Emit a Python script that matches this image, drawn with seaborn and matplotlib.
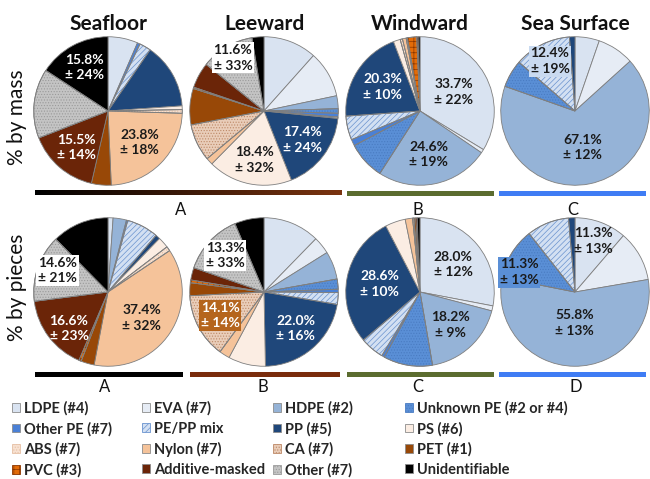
import numpy as np
import matplotlib
matplotlib.use("Agg")
import matplotlib.pyplot as plt
from matplotlib.patches import Wedge, Patch, Rectangle
from matplotlib.colors import LinearSegmentedColormap
import seaborn as sns

# ---------------------------------------------------------------- data
categories = ["LDPE (#4)", "EVA (#7)", "HDPE (#2)", "Unknown PE (#2 or #4)",
              "Other PE (#7)", "PE/PP mix", "PP (#5)", "PS (#6)",
              "ABS (#7)", "Nylon (#7)", "CA (#7)", "PET (#1)",
              "PVC (#3)", "Additive-masked", "Other (#7)", "Unidentifiable"]
sites = ["Seafloor", "Leeward", "Windward", "Sea Surface"]
row_titles = ["% by mass", "% by pieces"]

#                 LDPE  EVA  HDPE  UnkPE OthPE PE/PP  PP    PS   ABS  Nylon  CA   PET  PVC  Addit Other Unid
mass_seafloor  = [6.5,  0.0, 0.0,  0.0,  0.6,  2.5, 14.3,  0.8, 0.8, 23.8, 0.0, 4.3, 0.0, 15.5, 15.1, 15.8]
mass_leeward   = [11.6, 10.1, 2.8, 1.0,  0.8,  0.3, 17.4, 18.4, 0.0, 1.5,  8.1, 7.9, 0.3, 5.6,  11.6, 2.6]
mass_windward  = [33.7, 0.8, 24.6, 8.2,  1.4,  5.2, 20.3,  1.5, 0.5, 0.8,  0.3, 0.0, 2.0, 0.3,  0.0,  0.4]
mass_surface   = [5.3,  8.0, 67.1, 6.0,  0.0, 12.4,  1.2,  0.0, 0.0, 0.0,  0.0, 0.0, 0.0, 0.0,  0.0,  0.0]

pieces_seafloor = [1.1, 0.0, 2.9,  0.0,  0.3,  6.9,  1.0,  2.4, 1.0, 37.4, 0.0, 2.9, 0.5, 16.6, 14.6, 12.4]
pieces_leeward  = [12.3, 3.8, 6.1, 2.2,  0.7,  2.6, 22.0,  8.1, 0.0, 2.3, 14.1, 2.8, 0.6, 2.7,  13.3, 6.4]
pieces_windward = [28.0, 1.1, 18.2, 10.7, 0.6, 5.2, 28.6,  4.4, 0.0, 1.6,  0.3, 0.4, 0.0, 0.3,  0.0,  0.6]
pieces_surface  = [11.3, 11.0, 55.8, 11.3, 0.0, 9.2, 1.4,  0.0, 0.0, 0.0,  0.0, 0.0, 0.0, 0.0,  0.0,  0.0]

# +/- uncertainty of the labelled slices
mass_seafloor_err = {"Unidentifiable": 24, "Nylon (#7)": 18, "Additive-masked": 14}
mass_leeward_err = {"Other (#7)": 33, "PP (#5)": 24, "PS (#6)": 32}
mass_windward_err = {"LDPE (#4)": 22, "HDPE (#2)": 19, "PP (#5)": 10}
mass_surface_err = {"HDPE (#2)": 12, "PE/PP mix": 19}
pieces_seafloor_err = {"Nylon (#7)": 32, "Additive-masked": 23, "Other (#7)": 21}
pieces_leeward_err = {"Other (#7)": 33, "CA (#7)": 14, "PP (#5)": 16}
pieces_windward_err = {"LDPE (#4)": 12, "HDPE (#2)": 9, "PP (#5)": 10}
pieces_surface_err = {"LDPE (#4)": 13, "HDPE (#2)": 13, "Unknown PE (#2 or #4)": 13}

mass_groups = ["A", "B", "C"]
pieces_groups = ["A", "B", "C", "D"]

# ---------------------------------------------------------------- style
sns.set_theme(style="white")
plt.rcParams["font.family"] = ["Lato", "DejaVu Sans"]
plt.rcParams["hatch.linewidth"] = 0.5

fills = sns.color_palette([
    "#D9E3F1", "#E6ECF5", "#95B3D7", "#5A8FD6",
    "#4A80D6", "#D3E0F2", "#1F477A", "#FBEDE3",
    "#F7E1D1", "#F5C39A", "#E9CDB9", "#984807",
    "#E36C09", "#6B2508", "#C4C4C4", "#000000"])
hatches = [None, None, None, "......",
           None, "//////", None, None,
           "......", None, "......", None,
           "+++", None, "......", None]
hatch_colors = [None, None, None, "#4A7CC2",
                None, "#6A93CF", None, None,
                "#E6C0A5", None, "#BE8A68", None,
                "#8A3600", None, "#9A9A9A", None]
EDGE = "#7F7F7F"

W, H = 650, 479
R = 75
centers_x = [108, 264, 420, 575]
centers_y = [111, 292]

# label placement per (row, column, category): radius fraction, angle shift,
# text colour, box colour
label_style = {
    (0, 0, "Unidentifiable"): (0.67, 0, "white", None),
    (0, 0, "Nylon (#7)"): (0.60, 0, "#1a1a1a", None),
    (0, 0, "Additive-masked"): (0.65, 0, "white", None),
    (0, 1, "Other (#7)"): (0.83, 0, "#1a1a1a", "white"),
    (0, 1, "PP (#5)"): (0.65, 0, "white", None),
    (0, 1, "PS (#6)"): (0.67, 0, "#1a1a1a", None),
    (0, 2, "LDPE (#4)"): (0.52, 0, "#1a1a1a", None),
    (0, 2, "HDPE (#2)"): (0.60, 0, "#1a1a1a", None),
    (0, 2, "PP (#5)"): (0.60, 0, "white", None),
    (0, 3, "HDPE (#2)"): (0.50, 0, "#1a1a1a", None),
    (0, 3, "PE/PP mix"): (0.75, 0, "#1a1a1a", "#C9DAF0"),
    (1, 0, "Nylon (#7)"): (0.57, -4, "#1a1a1a", None),
    (1, 0, "Additive-masked"): (0.72, 6, "white", None),
    (1, 0, "Other (#7)"): (0.74, -4, "#1a1a1a", "white"),
    (1, 1, "Other (#7)"): (0.72, 0, "#1a1a1a", "white"),
    (1, 1, "CA (#7)"): (0.67, 0, "white", "#B5651D"),
    (1, 1, "PP (#5)"): (0.65, 0, "white", None),
    (1, 2, "LDPE (#4)"): (0.58, 0, "#1a1a1a", None),
    (1, 2, "HDPE (#2)"): (0.60, 0, "#1a1a1a", None),
    (1, 2, "PP (#5)"): (0.55, 0, "white", None),
    (1, 3, "LDPE (#4)"): (0.73, 0, "#1a1a1a", None),
    (1, 3, "HDPE (#2)"): (0.42, 0, "#1a1a1a", None),
    (1, 3, "Unknown PE (#2 or #4)"): (0.80, 12, "#1a1a1a", "#5A8FD6"),
}

grid = [[mass_seafloor, mass_leeward, mass_windward, mass_surface],
        [pieces_seafloor, pieces_leeward, pieces_windward, pieces_surface]]
errors = [[mass_seafloor_err, mass_leeward_err, mass_windward_err, mass_surface_err],
          [pieces_seafloor_err, pieces_leeward_err, pieces_windward_err, pieces_surface_err]]

fig = plt.figure(figsize=(W / 100, H / 100), dpi=100)
fig.patch.set_facecolor("white")

# background canvas in pixel coordinates for bars and letters
canvas = fig.add_axes([0, 0, 1, 1])
canvas.set_xlim(0, W)
canvas.set_ylim(H, 0)
canvas.axis("off")


def draw_pie(row, col):
    cx, cy = centers_x[col], centers_y[row]
    ax = fig.add_axes([(cx - R) / W, 1 - (cy + R) / H, 2 * R / W, 2 * R / H])
    values = np.asarray(grid[row][col], dtype=float)
    idx = [i for i, v in enumerate(values) if v > 0]
    wedges, _ = ax.pie(values[idx], colors=[fills[i] for i in idx],
                       startangle=90, counterclock=False, radius=1,
                       wedgeprops=dict(edgecolor=EDGE, linewidth=0.6))
    by_cat = {}
    for w, i in zip(wedges, idx):
        by_cat[categories[i]] = (w, i)
        if hatches[i]:
            ax.add_patch(Wedge(w.center, w.r, w.theta1, w.theta2,
                               facecolor="none", edgecolor=hatch_colors[i],
                               hatch=hatches[i], linewidth=0))
            ax.add_patch(Wedge(w.center, w.r, w.theta1, w.theta2,
                               fill=False, edgecolor=EDGE, linewidth=0.6))
    for cat, err in errors[row][col].items():
        w, i = by_cat[cat]
        rf, dth, tcol, box = label_style[(row, col, cat)]
        ang = np.deg2rad((w.theta1 + w.theta2) / 2 + dth)
        kw = {}
        if box:
            kw["bbox"] = dict(boxstyle="square,pad=0.12", fc=box, ec="none")
        ax.text(rf * np.cos(ang), rf * np.sin(ang),
                f"{values[i]:.1f}%\n\u00b1 {err}%", ha="center", va="center",
                fontsize=10, fontweight="bold", color=tcol,
                linespacing=1.35, zorder=5, **kw)
    ax.set_xlim(-1.01, 1.01)
    ax.set_ylim(-1.01, 1.01)
    ax.axis("off")


for r in range(2):
    for c in range(4):
        draw_pie(r, c)

# site titles and row titles
for c, s in enumerate(sites):
    fig.text(centers_x[c] / W, 1 - 24 / H, s, ha="center", va="center",
             fontsize=15, fontweight="bold", color="#111111")
for r, t in enumerate(row_titles):
    fig.text(17 / W, 1 - [117, 287][r] / H, t, ha="center", va="center",
             rotation=90, fontsize=15, color="#111111")

# group bars below each row
grad = np.linspace(0, 1, 256)[None, :]
canvas.imshow(grad, extent=[35, 342, 195.5, 190.5], aspect="auto",
              cmap=LinearSegmentedColormap.from_list("floor", ["#000000", "#7B3410"]))
bar_y = [193, 374]
row1_bars = [(347, 494, "#5B6C2F"), (499, 646, "#3F7CF4")]
row2_bars = [(35, 183, "#000000"), (190, 340, "#7A2C0C"),
             (347, 494, "#5B6C2F"), (499, 646, "#3F7CF4")]
for x0, x1, col in row1_bars:
    canvas.add_patch(Rectangle((x0, bar_y[0] - 2.5), x1 - x0, 5, color=col, lw=0))
for x0, x1, col in row2_bars:
    canvas.add_patch(Rectangle((x0, bar_y[1] - 2.5), x1 - x0, 5, color=col, lw=0))

for x, g in zip([181, 418, 573], mass_groups):
    canvas.text(x, 210, g, ha="center", va="center", fontsize=12, color="#111111")
for x, g in zip([105, 263, 418, 576], pieces_groups):
    canvas.text(x, 387, g, ha="center", va="center", fontsize=12, color="#111111")

# legend: four columns, filled row by row
handles = [Patch(facecolor=fills[i],
                 edgecolor=hatch_colors[i] if hatches[i] else "#8C8C8C",
                 hatch=hatches[i], linewidth=0.6) for i in range(len(categories))]
legend_x = [12, 142, 273, 405]
for c in range(4):
    ids = list(range(c, len(categories), 4))
    fig.legend([handles[i] for i in ids], [categories[i] for i in ids],
               loc="upper left", bbox_to_anchor=(legend_x[c] / W, 1 - 401 / H),
               frameon=False, prop=dict(weight="bold", size=10.5),
               handlelength=0.55, handleheight=0.55, handletextpad=0.3,
               labelspacing=0.42, borderaxespad=0, borderpad=0)

fig.savefig("out.png", dpi=100, facecolor="white")
